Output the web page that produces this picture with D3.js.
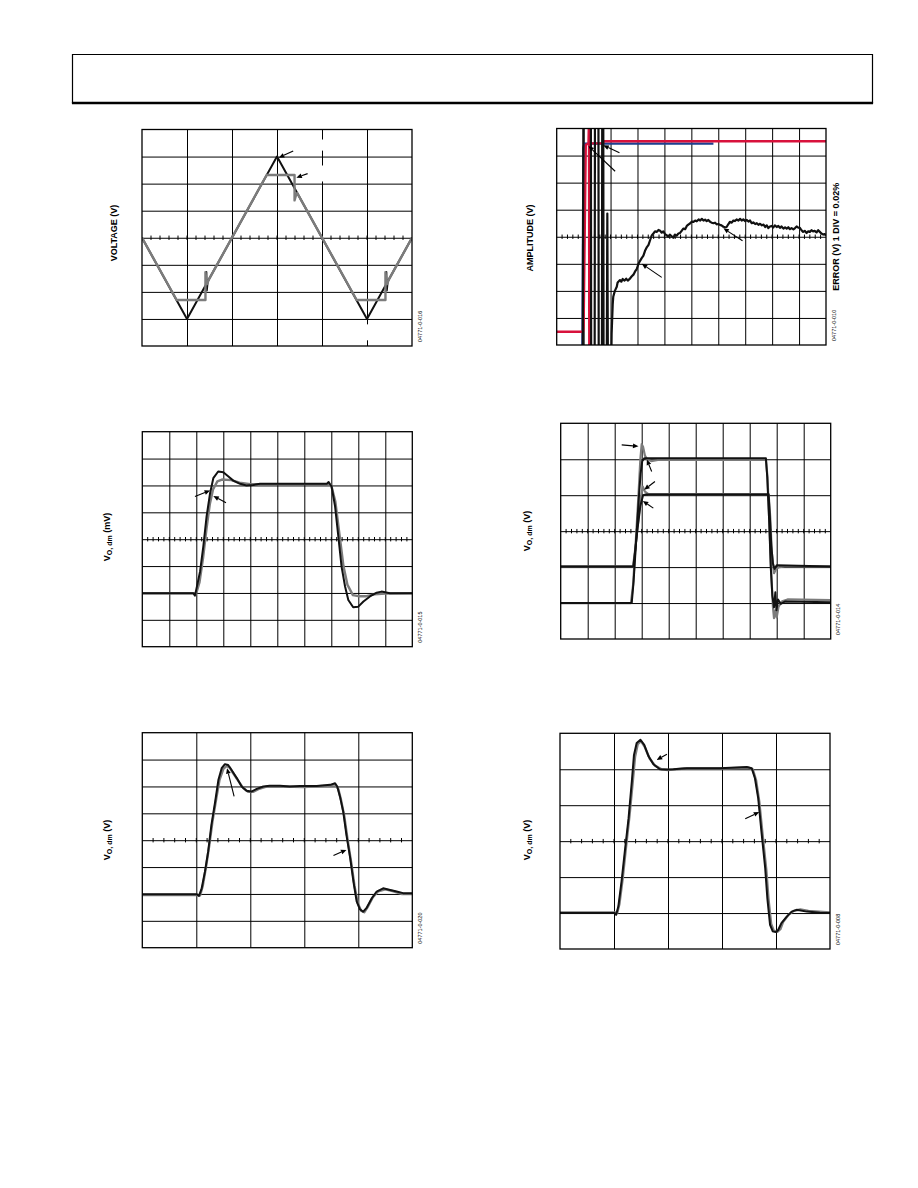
<!DOCTYPE html>
<html><head><meta charset="utf-8">
<script src="https://cdn.jsdelivr.net/npm/d3@7"></script>
<style>body{margin:0;background:#fff}text{font-family:"Liberation Sans",Arial,sans-serif}</style>
</head><body>
<svg id="page" width="918" height="1188"></svg>
<script>
// ---------- DATA (units = scope divisions) ----------
// Panel 1: triangle input (black) and clipped output (gray)
const p1Black = [[0,0],[1,-3],[1.42,-1.74],[1.43,-1.27],[1.44,-1.95],[1.46,-1.62],[3,3],[5,-3],[5.42,-1.74],[5.43,-1.27],[5.44,-1.95],[5.46,-1.62],[6,0]];
const p1Gray = [[0,0],[0.77,-2.3],[1.41,-2.3],[1.41,-1.27],[1.44,-1.72],[1.5,-1.5],[2.77,2.32],[3.39,2.32],[3.39,1.38],[3.43,1.62],[3.45,1.65],[4.77,-2.3],[5.41,-2.3],[5.41,-1.27],[5.44,-1.72],[5.5,-1.5],[6,0]];
const p1Arrows = [[[3.36,3.21],[3.04,2.96]],[[3.68,2.37],[3.43,2.22]]];

// Panel 2: settling time (amplitude red/blue, error black)
const p2Blue = [[0.95,-4.4],[0.99,3.3],[1.03,3.44],[5.82,3.44]];
const p2Red = [[0,-3.51],[0.98,-3.51],[1.0,-3.3],[1.08,3.4],[1.18,3.45],[1.2,4.4],[1.21,-4.4],[1.23,-4.4],[1.24,3.45],[1.72,3.45],[1.74,3.53],[10,3.53]];
const p2Black = [[0.97,-4.4],[0.99,4.4],[1.27,4.4],[1.28,-4.4],[1.41,-4.4],[1.42,4.4],[1.55,4.4],[1.56,-4.4],[1.68,-4.4],[1.69,4.4],[1.73,4.4],[1.74,-4.4],[1.86,-4.4],[1.88,0.86],[1.9,-4.4],[2.03,-4.4],
 [2.04,-3.57],[2.08,-2.5],[2.1,-2.22],[2.16,-2.0],[2.23,-1.85],[2.26,-1.7],[2.29,-1.66],[2.35,-1.6],[2.4,-1.66],[2.45,-1.56],[2.52,-1.62],[2.58,-1.55],[2.64,-1.62],[2.72,-1.55],[2.78,-1.47],[2.85,-1.4],[2.91,-1.28],[2.97,-1.2],[3.03,-1.02],[3.09,-0.9],[3.15,-0.8],[3.22,-0.7],[3.28,-0.52],[3.35,-0.38],[3.41,-0.3],[3.47,-0.12],[3.53,0.05],[3.59,0.12],[3.65,0.2],[3.72,0.18],[3.78,0.25],[3.84,0.22],[3.9,0.15],[3.96,0.2],[4.02,0.1],[4.08,0.06],[4.14,0.0],[4.2,0.08],[4.27,0.02],[4.33,-0.04],[4.39,0.08],[4.45,0.04],[4.52,0.12],[4.58,0.14],[4.64,0.22],[4.7,0.3],[4.77,0.28],[4.83,0.4],[4.9,0.46],[4.96,0.5],[5.02,0.56],[5.08,0.55],[5.14,0.6],[5.2,0.57],[5.27,0.64],[5.33,0.6],[5.39,0.66],[5.45,0.6],[5.51,0.63],[5.57,0.58],[5.63,0.62],[5.7,0.55],[5.76,0.52],[5.82,0.5],[5.88,0.52],[5.94,0.46],[6.0,0.47],[6.06,0.44],[6.12,0.42],[6.19,0.37],[6.25,0.35],[6.31,0.36],[6.37,0.46],[6.43,0.55],[6.5,0.52],[6.56,0.6],[6.62,0.58],[6.68,0.64],[6.75,0.6],[6.81,0.66],[6.87,0.6],[6.93,0.64],[7.0,0.58],[7.06,0.62],[7.12,0.56],[7.18,0.6],[7.24,0.5],[7.3,0.53],[7.37,0.47],[7.43,0.5],[7.49,0.44],[7.55,0.48],[7.62,0.42],[7.68,0.45],[7.74,0.36],[7.8,0.42],[7.86,0.32],[7.92,0.38],[7.98,0.4],[8.04,0.34],[8.1,0.42],[8.17,0.36],[8.23,0.4],[8.29,0.33],[8.35,0.38],[8.42,0.3],[8.48,0.35],[8.54,0.3],[8.6,0.35],[8.66,0.28],[8.72,0.32],[8.79,0.27],[8.85,0.32],[8.91,0.38],[8.97,0.34],[9.03,0.33],[9.09,0.24],[9.15,0.18],[9.21,0.22],[9.28,0.14],[9.34,0.2],[9.4,0.18],[9.46,0.24],[9.52,0.2],[9.58,0.22],[9.65,0.16],[9.71,0.24],[9.77,0.18],[9.83,0.12],[9.9,0.08],[9.95,0.1],[10,0.04]];
const p2Arrows = [[[2.33,3.1],[1.73,3.38]],[[2.17,2.42],[1.18,3.35]],[[6.9,-0.15],[6.19,0.31]],[[3.9,-1.5],[3.16,-1.0]]];

// Panel 3: small-signal pulse (mV)
const p3Black = [[0,-2.01],[1.89,-2.01],[1.95,-2.1],[2.01,-1.82],[2.14,-1.2],[2.26,-0.27],[2.38,0.84],[2.51,1.71],[2.63,2.27],[2.81,2.52],[3.0,2.49],[3.19,2.33],[3.37,2.18],[3.62,2.06],[3.86,2.0],[4.11,2.02],[4.36,2.06],[6.83,2.06],[6.9,2.13],[7.01,1.96],[7.14,1.22],[7.26,0.1],[7.38,-1.02],[7.51,-1.76],[7.63,-2.26],[7.81,-2.53],[8.0,-2.51],[8.19,-2.32],[8.43,-2.13],[8.68,-1.99],[8.86,-1.95],[9.17,-2.01],[10,-2.01]];
const p3Gray = [[0,-2.01],[2.0,-2.01],[2.12,-1.6],[2.25,-0.7],[2.38,0.4],[2.5,1.3],[2.62,1.85],[2.78,2.15],[2.95,2.22],[3.3,2.2],[3.6,2.1],[4.0,2.05],[6.88,2.05],[7.0,2.0],[7.15,1.4],[7.3,0.2],[7.45,-1.0],[7.6,-1.7],[7.8,-2.08],[8.0,-2.12],[8.3,-2.12],[8.6,-2.05],[9.0,-2.02],[10,-2.01]];
const p3Arrows = [[[1.95,1.59],[2.51,1.81]],[[3.1,1.36],[2.63,1.61]]];

// Panel 4: large-signal pulses, two amplitudes
const p4BlackBig = [[0,-2.0],[2.63,-2.0],[2.7,-1.4],[2.8,-0.2],[2.9,1.0],[2.96,1.6],[3.02,1.95],[3.1,2.03],[7.6,2.03],[7.65,1.5],[7.72,0.3],[7.78,-1.0],[7.84,-1.8],[7.9,-2.12],[7.95,-1.7],[7.99,-2.2],[8.05,-1.9],[8.15,-2.02],[8.3,-1.96],[10,-1.98]];
const p4GrayBig = [[0,-2.0],[2.6,-2.0],[2.68,-1.5],[2.78,-0.3],[2.88,1.0],[2.95,2.0],[3.0,2.42],[3.05,2.35],[3.12,2.1],[3.2,2.0],[3.35,1.95],[3.6,1.98],[7.6,1.98],[7.66,1.5],[7.73,0.2],[7.8,-1.2],[7.86,-2.1],[7.9,-2.42],[7.95,-2.2],[8.0,-2.4],[8.07,-2.1],[8.2,-1.95],[8.4,-1.9],[10,-1.92]];
const p4BlackSmall = [[0,-0.98],[2.69,-0.98],[2.75,-0.6],[2.85,0.1],[2.95,0.7],[3.05,1.0],[3.15,1.02],[7.7,1.02],[7.74,0.5],[7.8,-0.4],[7.86,-0.9],[7.92,-1.05],[8.0,-0.95],[10,-0.98]];
const p4GraySmall = [[0,-0.98],[2.68,-0.98],[2.76,-0.5],[2.86,0.2],[2.96,0.9],[3.04,1.24],[3.12,1.1],[3.25,1.03],[7.7,1.03],[7.76,0.4],[7.82,-0.6],[7.9,-1.17],[7.98,-1.05],[8.1,-1.0],[8.3,-0.98],[10,-0.98]];
const p4Arrows = [[[2.26,2.4],[2.88,2.36]],[[3.37,1.66],[3.19,1.99]],[[3.49,1.38],[3.09,1.15]],[[3.43,0.64],[3.04,0.84]]];

// Panel 5: pulse response, two loads
const p5Black = [[0,-2.01],[1.01,-2.01],[1.05,-2.07],[1.1,-1.79],[1.16,-1.17],[1.22,-0.42],[1.28,0.57],[1.35,1.44],[1.41,2.25],[1.47,2.68],[1.53,2.83],[1.59,2.8],[1.65,2.62],[1.75,2.31],[1.84,2.0],[1.93,1.84],[2.02,1.81],[2.12,1.91],[2.24,2.0],[2.36,2.03],[2.55,2.03],[2.73,2.0],[2.92,2.02],[3.23,2.02],[3.48,2.06],[3.57,2.12],[3.61,2.0],[3.66,1.63],[3.72,1.07],[3.78,0.2],[3.85,-0.67],[3.91,-1.54],[3.97,-2.28],[4.03,-2.57],[4.09,-2.66],[4.15,-2.53],[4.25,-2.16],[4.34,-1.91],[4.46,-1.79],[4.59,-1.85],[4.71,-1.91],[4.83,-1.97],[5,-1.97]];
const p5Gray = [[0,-2.04],[1.02,-2.04],[1.07,-2.05],[1.12,-1.7],[1.18,-1.0],[1.24,-0.2],[1.3,0.7],[1.37,1.55],[1.43,2.25],[1.5,2.65],[1.56,2.76],[1.62,2.7],[1.68,2.5],[1.78,2.2],[1.87,1.94],[1.96,1.8],[2.05,1.8],[2.15,1.9],[2.3,1.99],[2.6,2.0],[3.0,1.98],[3.45,2.03],[3.57,2.08],[3.63,1.9],[3.68,1.5],[3.74,0.9],[3.8,0.05],[3.87,-0.85],[3.93,-1.7],[3.99,-2.35],[4.05,-2.62],[4.11,-2.68],[4.17,-2.5],[4.27,-2.12],[4.37,-1.9],[4.5,-1.83],[4.65,-1.9],[4.8,-2.0],[5,-2.0]];
const p5Arrows = [[[1.7,1.63],[1.57,2.68]],[[3.54,-0.57],[3.78,-0.36]]];

// Panel 6: pulse response
const p6Black = [[0,-2.0],[1.01,-2.0],[1.04,-2.05],[1.08,-1.82],[1.14,-1.12],[1.2,-0.29],[1.27,0.64],[1.33,1.66],[1.37,2.4],[1.42,2.73],[1.49,2.82],[1.56,2.68],[1.64,2.36],[1.73,2.14],[1.85,2.0],[1.98,1.99],[2.1,2.0],[2.35,2.03],[2.96,2.03],[3.46,2.06],[3.55,2.03],[3.61,1.75],[3.67,1.2],[3.73,0.27],[3.8,-0.75],[3.84,-1.59],[3.89,-2.33],[3.94,-2.51],[4.0,-2.53],[4.04,-2.47],[4.1,-2.28],[4.2,-2.1],[4.29,-1.96],[4.38,-1.91],[4.57,-1.96],[4.81,-1.99],[5,-2.0]];
const p6Gray = [[0,-1.98],[1.02,-1.98],[1.06,-2.0],[1.1,-1.75],[1.16,-1.05],[1.22,-0.2],[1.29,0.75],[1.35,1.7],[1.39,2.35],[1.44,2.7],[1.5,2.78],[1.57,2.62],[1.66,2.3],[1.76,2.1],[1.88,2.0],[2.0,1.98],[2.3,2.02],[3.0,2.02],[3.5,2.04],[3.57,2.0],[3.63,1.7],[3.69,1.1],[3.75,0.2],[3.82,-0.8],[3.86,-1.6],[3.91,-2.3],[3.96,-2.5],[4.03,-2.52],[4.08,-2.45],[4.13,-2.25],[4.23,-2.05],[4.33,-1.94],[4.45,-1.9],[4.6,-1.94],[5,-1.98]];
const p6Arrows = [[[1.98,2.42],[1.79,2.26]],[[3.43,0.62],[3.69,0.81]]];

// Text labels
const yLabels = ["VOLTAGE (V)","AMPLITUDE (V)",["V","O, dm"," (mV)"],["V","O, dm"," (V)"],["V","O, dm"," (V)"],["V","O, dm"," (V)"]];
const rightLabel = "ERROR (V) 1 DIV = 0.02%";
const figCodes = ["04771-0-016","04771-0-010","04771-0-015","04771-0-014","04771-0-020","04771-0-008"];

// ---------- DRAWING ----------
const BLACK = "#111", GRAY = "#7c7c7c", RED = "#d8123c", BLUE = "#1d3f8f";
const svg = d3.select("#page");
svg.append("rect").attr("width",918).attr("height",1188).attr("fill","#fff");

// page header box
svg.append("path").attr("d","M72.5,103 V54.5 H872.5 V103").attr("fill","none").attr("stroke","#000").attr("stroke-width",1.2);
svg.append("line").attr("x1",71.9).attr("x2",873.1).attr("y1",103).attr("y2",103).attr("stroke","#000").attr("stroke-width",2.4);

const panels = [
  {x0:142,x1:412,y0:129.5,y1:346,nx:6,ny:8,label:yLabels[0],lx:117,ly:233,code:figCodes[0],
   masks:[[3.9,3.22,4.2,3.63],[3.9,2.08,4.2,2.67],[4.85,-3.79,5.15,-3.2]],
   traces:[{d:p1Black,c:BLACK,w:2},{d:p1Gray,c:GRAY,w:2.4}],arrows:p1Arrows},
  {x0:556.7,x1:826,y0:128.5,y1:345,nx:10,ny:8,label:yLabels[1],lx:532.5,ly:238,code:figCodes[1],right:rightLabel,masks:[],
   traces:[{d:p2Blue,c:BLUE,w:2.2},{d:p2Red,c:RED,w:2.4},{d:p2Black,c:BLACK,w:2.2}],arrows:p2Arrows},
  {x0:142.3,x1:412.3,y0:431.7,y1:646.7,nx:10,ny:8,label:yLabels[2],lx:110,ly:537,code:figCodes[2],masks:[],
   traces:[{d:p3Gray,c:GRAY,w:2.4},{d:p3Black,c:BLACK,w:2}],arrows:p3Arrows},
  {x0:560.7,x1:830.7,y0:423.3,y1:639,nx:10,ny:6,label:yLabels[3],lx:530,ly:531,code:figCodes[3],masks:[],
   traces:[{d:p4GrayBig,c:GRAY,w:2.2},{d:p4GraySmall,c:GRAY,w:2.2},{d:p4BlackBig,c:BLACK,w:2},{d:p4BlackSmall,c:BLACK,w:2}],arrows:p4Arrows},
  {x0:142.3,x1:412.3,y0:732.7,y1:947.7,nx:5,ny:8,label:yLabels[4],lx:110,ly:840,code:figCodes[4],masks:[],
   traces:[{d:p5Gray,c:GRAY,w:2.4},{d:p5Black,c:BLACK,w:2}],arrows:p5Arrows},
  {x0:560,x1:830,y0:733.3,y1:949,nx:5,ny:6,label:yLabels[5],lx:530,ly:840,code:figCodes[5],masks:[],
   traces:[{d:p6Gray,c:GRAY,w:2.4},{d:p6Black,c:BLACK,w:2}],arrows:p6Arrows}
];

panels.forEach((p,i)=>{
  const g = svg.append("g");
  const x = d3.scaleLinear().domain([0,p.nx]).range([p.x0,p.x1]);
  const y = d3.scaleLinear().domain([-p.ny/2,p.ny/2]).range([p.y1,p.y0]);
  // vertical grid
  const gx = g.append("g").attr("transform",`translate(0,${p.y1})`)
    .call(d3.axisBottom(x).tickValues(d3.range(1,p.nx)).tickSize(-(p.y1-p.y0)).tickFormat(""));
  const gy = g.append("g").attr("transform",`translate(${p.x0},0)`)
    .call(d3.axisLeft(y).tickValues(d3.range(-p.ny/2+1,p.ny/2)).tickSize(-(p.x1-p.x0)).tickFormat(""));
  [gx,gy].forEach(a=>{a.select(".domain").remove();a.selectAll(".tick line").attr("stroke","#000").attr("stroke-width",1);});
  // minor ticks on centre line
  g.append("g").selectAll("line").data(d3.range(1,p.nx*5)).join("line")
    .attr("x1",d=>x(d/5)).attr("x2",d=>x(d/5)).attr("y1",y(0)-2.2).attr("y2",y(0)+2.2)
    .attr("stroke","#000").attr("stroke-width",1);
  // erased annotation areas (white)
  g.append("g").selectAll("rect").data(p.masks).join("rect")
    .attr("x",d=>x(d[0])).attr("y",d=>y(d[3])).attr("width",d=>x(d[2])-x(d[0])).attr("height",d=>y(d[1])-y(d[3]))
    .attr("fill","#fff");
  // clip
  const cid = "clip"+i;
  svg.append("clipPath").attr("id",cid).append("rect")
    .attr("x",p.x0).attr("y",p.y0).attr("width",p.x1-p.x0).attr("height",p.y1-p.y0);
  const line = d3.line().x(d=>x(d[0])).y(d=>y(d[1]));
  const tg = g.append("g").attr("clip-path",`url(#${cid})`);
  p.traces.forEach(t=>{
    tg.append("path").attr("d",line(t.d)).attr("fill","none").attr("stroke",t.c)
      .attr("stroke-width",t.w).attr("stroke-linejoin","round");
  });
  // frame
  g.append("rect").attr("x",p.x0).attr("y",p.y0).attr("width",p.x1-p.x0).attr("height",p.y1-p.y0)
    .attr("fill","none").attr("stroke","#000").attr("stroke-width",1.3);
  // arrows
  p.arrows.forEach(a=>{
    const x1=x(a[0][0]),y1=y(a[0][1]),x2=x(a[1][0]),y2=y(a[1][1]);
    const ang=Math.atan2(y2-y1,x2-x1), L=5.5, W=2.4;
    const bx=x2-L*Math.cos(ang), by=y2-L*Math.sin(ang);
    g.append("line").attr("x1",x1).attr("y1",y1).attr("x2",bx).attr("y2",by).attr("stroke","#000").attr("stroke-width",1.1);
    g.append("path").attr("d",`M${x2},${y2}L${bx-W*Math.sin(ang)},${by+W*Math.cos(ang)}L${bx+W*Math.sin(ang)},${by-W*Math.cos(ang)}Z`).attr("fill","#000");
  });
  // y label
  const lt = g.append("text").attr("transform",`translate(${p.lx},${p.ly}) rotate(-90)`)
    .attr("text-anchor","middle").attr("font-size",9).attr("font-weight","bold").attr("fill","#000");
  if (typeof p.label === "string") lt.text(p.label);
  else {
    lt.append("tspan").text(p.label[0]);
    lt.append("tspan").attr("font-size",7).attr("dy",2).text(p.label[1]);
    lt.append("tspan").attr("dy",-2).text(p.label[2]);
  }
  if (p.right) {
    g.append("text").attr("transform",`translate(${p.x1+12.5},${(p.y0+p.y1)/2}) rotate(-90)`)
      .attr("text-anchor","middle").attr("font-size",9).attr("font-weight","bold").attr("fill","#000").text(p.right);
  }
  // figure code
  g.append("text").attr("transform",`translate(${p.x1+9.5},${p.y1-4}) rotate(-90)`)
    .attr("text-anchor","start").attr("font-size",5.5).attr("fill","#000").text(p.code);
});
</script>
</body></html>
